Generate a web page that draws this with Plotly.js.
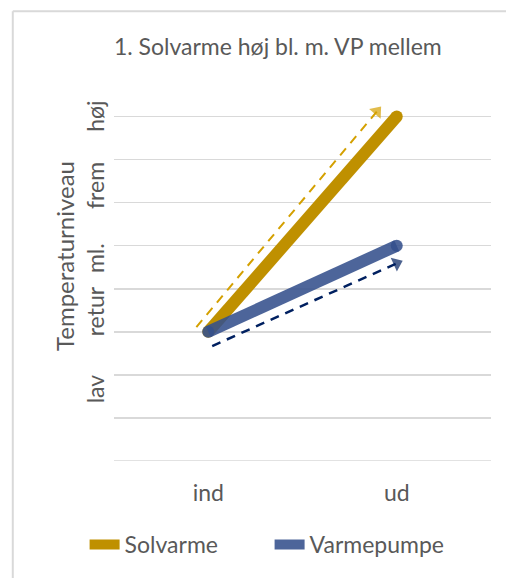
<!DOCTYPE html>
<html>
<head>
<meta charset="utf-8">
<script src="https://cdn.plot.ly/plotly-3.0.1.min.js"></script>
<style>html,body{margin:0;padding:0;background:#fff;}#chart{width:506px;height:578px;}</style>
</head>
<body>
<div id="chart"></div>
<script>
// Categories and data
const categories = ['ind', 'ud'];
const catPos = [0, 1];
const solvarme = [3, 8];      // retur -> høj
const varmepumpe = [3, 5];    // retur -> ml.
// y-axis level labels (placed as in reference)
const levelLabels = ['lav', 'retur', 'ml.', 'frem', 'høj'];
const levelPos = [1.59, 3.39, 4.63, 6.32, 7.93];
// Dashed direction arrows (data coordinates: start, head)
const arrowSolX = [-0.063, 0.895];
const arrowSolY = [3.11, 8.12];
const arrowVpX = [0.021, 1.0];
const arrowVpY = [2.67, 4.59];

const goldLine = '#BF9000';
const blueLine = 'rgba(52,80,140,0.88)';

const traces = [
  {x: catPos, y: solvarme, mode: 'lines', name: 'Solvarme', line: {color: goldLine, width: 12}, cliponaxis: false},
  {x: catPos, y: solvarme, mode: 'markers', showlegend: false, marker: {color: goldLine, size: 12}, cliponaxis: false, hoverinfo: 'skip'},
  {x: catPos, y: varmepumpe, mode: 'lines', name: 'Varmepumpe', line: {color: blueLine, width: 12}, cliponaxis: false},
  {x: catPos, y: varmepumpe, mode: 'markers', showlegend: false, marker: {color: blueLine, size: 12}, cliponaxis: false, hoverinfo: 'skip'},
  {x: arrowSolX, y: arrowSolY, mode: 'lines+markers', showlegend: false, cliponaxis: false, hoverinfo: 'skip',
   line: {color: '#D4A000', width: 2, dash: '9px,7px'},
   marker: {symbol: 'triangle-up', size: [0, 13], color: '#D4A000', angleref: 'previous', line: {width: 0}}},
  {x: arrowVpX, y: arrowVpY, mode: 'lines+markers', showlegend: false, cliponaxis: false, hoverinfo: 'skip',
   line: {color: '#002060', width: 2.5, dash: '9px,7px'},
   marker: {symbol: 'triangle-up', size: [0, 13], color: '#002060', angleref: 'previous', line: {width: 0}}}
];

const layout = {
  width: 506, height: 578,
  margin: {l: 113.5, r: 14.5, t: 95.3, b: 114},
  paper_bgcolor: '#ffffff', plot_bgcolor: '#ffffff',
  font: {family: 'Lato, "Open Sans", sans-serif', color: '#595959'},
  title: {text: '1. Solvarme høj bl. m. VP mellem', font: {size: 23, color: '#595959'}, x: 0.549, xanchor: 'center', y: 0.918, yanchor: 'middle'},
  xaxis: {
    range: [-0.5, 1.5], tickvals: catPos, ticktext: categories, showgrid: false, zeroline: false,
    showline: false, ticks: '', tickfont: {size: 23, color: '#595959'}, ticklabelstandoff: 16, fixedrange: true
  },
  yaxis: {
    range: [0, 8.5], tickvals: levelPos, ticktext: levelLabels, tickangle: -90,
    tickfont: {size: 23, color: '#595959'}, ticks: '', showgrid: false, zeroline: false, showline: false,
    ticklabelstandoff: 4,
    minor: {tickmode: 'linear', tick0: 0, dtick: 1, showgrid: true, gridcolor: '#D9D9D9', gridwidth: 1.5, ticks: ''},
    fixedrange: true
  },
  annotations: [
    {text: 'Temperaturniveau', xref: 'paper', yref: 'paper', x: -0.131, y: 0.559, textangle: -90,
     showarrow: false, xanchor: 'center', yanchor: 'middle', font: {size: 24, color: '#595959'}}
  ],
  legend: {orientation: 'h', x: -0.078, xanchor: 'left', y: -0.228, yanchor: 'middle', font: {size: 23, color: '#595959'}, entrywidth: 140, tracegroupgap: 0},
  shapes: [
    {type: 'line', xref: 'paper', yref: 'paper', x0: -0.2685, x1: 1.2, y0: 1.2287, y1: 1.2287, line: {color: '#D9D9D9', width: 2}},
    {type: 'line', xref: 'paper', yref: 'paper', x0: -0.2685, x1: -0.2685, y0: 1.2287, y1: -0.4, line: {color: '#D9D9D9', width: 2}},
    {type: 'line', xref: 'paper', yref: 'y', x0: 0, x1: 1, y0: 0, y1: 0, line: {color: '#D9D9D9', width: 1.5}, layer: 'below'}
  ],
  showlegend: true
};

Plotly.newPlot('chart', traces, layout, {displayModeBar: false, staticPlot: true});
</script>
</body>
</html>
